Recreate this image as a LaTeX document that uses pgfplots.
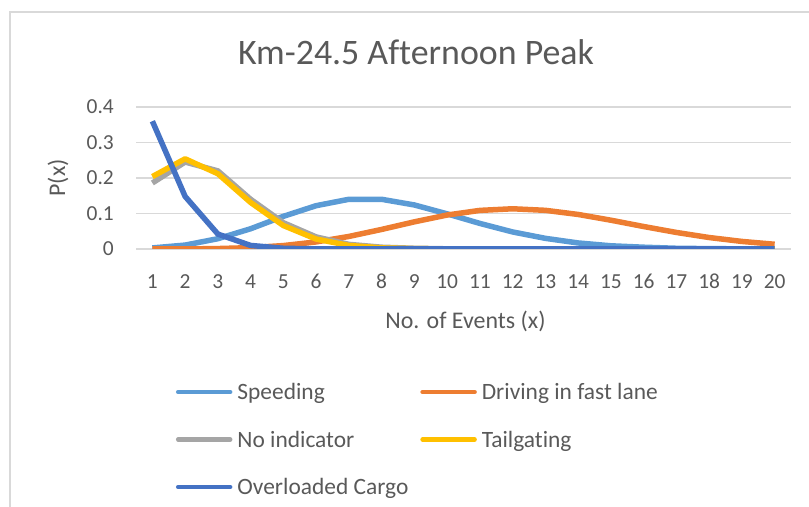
\documentclass[border=0pt]{standalone}
\usepackage{pgfplots}
\usepackage{pgfplotstable}
\pgfplotsset{compat=1.18}
\usepackage{fontspec}
\setmainfont{Carlito}[Ligatures=CommonOff]

\definecolor{speed}{HTML}{5B9BD5}
\definecolor{fastlane}{HTML}{ED7D31}
\definecolor{noind}{HTML}{A5A5A5}
\definecolor{tailg}{HTML}{FFC000}
\definecolor{cargo}{HTML}{4472C4}
\definecolor{txt}{HTML}{595959}
\definecolor{gridc}{HTML}{D9D9D9}

% P(x) for x = 1..20
\pgfplotstableread{
x  speed   fast    noind   tail    cargo
1  0.003   0.0000  0.186   0.204   0.360
2  0.011   0.0001  0.245   0.254   0.148
3  0.029   0.0012  0.220   0.212   0.042
4  0.057   0.0038  0.140   0.131   0.010
5  0.092   0.0096  0.074   0.066   0.002
6  0.122   0.0199  0.034   0.028   0.0003
7  0.140   0.0353  0.013   0.010   0
8  0.140   0.0551  0.005   0.003   0
9  0.124   0.0765  0.002   0.001   0
10 0.099   0.0957  0.0005  0.0003  0
11 0.072   0.1087  0       0       0
12 0.048   0.1133  0       0       0
13 0.030   0.1089  0       0       0
14 0.017   0.0973  0       0       0
15 0.009   0.0811  0       0       0
16 0.005   0.0633  0       0       0
17 0.002   0.0466  0       0       0
18 0.001   0.0323  0       0       0
19 0.0004  0.0213  0       0       0
20 0.0002  0.0133  0       0       0
}\peak

\begin{document}
\begin{tikzpicture}[x=1bp,y=1bp]
\useasboundingbox (0,0) rectangle (809,507);
% chart area border
\draw[gridc, line width=1.2bp] (10,-10) -- (10,495) -- (830,495);
\node[anchor=base, inner sep=0pt, text=txt, font=\fontsize{36}{40}\selectfont] at (416,442) {Km-24.5 Afternoon Peak};
\begin{axis}[
  at={(136bp,258bp)}, anchor=south west,
  scale only axis, width=655bp, height=142bp,
  xmin=0.5, xmax=20.5, ymin=0, ymax=0.4,
  xtick={1,...,20},
  ytick={0,0.1,0.2,0.3,0.4},
  yticklabels={0,0.1,0.2,0.3,0.4},
  /pgf/number format/assume math mode=true,
  axis line style={draw=none},
  major tick length=0pt,
  ymajorgrids,
  grid style={gridc, line width=1.3bp},
  tick label style={font=\fontsize{21.5}{24}\selectfont, text=txt},
  yticklabel style={anchor=east, inner sep=0pt, xshift=-22bp},
  xticklabel style={anchor=north, inner sep=0pt, text height=13.5bp, yshift=-26bp},
  xlabel={No. of Events (x)},
  ylabel={P(x)},
  every axis x label/.style={at={(axis description cs:0.503,-0.507)}, anchor=center,
    font=\fontsize{24}{28}\selectfont, text=txt},
  every axis y label/.style={at={(axis description cs:-0.119,0.5)}, anchor=center, rotate=90,
    font=\fontsize{24}{28}\selectfont, text=txt},
  every axis plot/.append style={line width=5.5bp, line join=round, mark=none},
  legend image code/.code={\draw[#1, line width=4.5bp, line cap=round] (2bp,0bp) -- (54bp,0bp);},
  legend cell align=left,
  legend columns=2,
  legend style={
    draw=none, fill=none, inner sep=0pt, outer sep=0pt,
    at={(axis description cs:0.061,-0.9366)}, anchor=north west,
    font=\fontsize{23.5}{26}\selectfont, text=txt,
    nodes={inner sep=0pt, text height=18bp, text depth=2bp},
    row sep=27.5bp,
    /tikz/every odd column/.append style={column sep=5bp},
    /tikz/every even column/.append style={column sep=12bp},
  },
]
\addplot[speed] table[x=x, y=speed] {\peak};
\addlegendentry{Speeding}
\addplot[fastlane] table[x=x, y=fast] {\peak};
\addlegendentry{Driving in fast lane}
\addplot[noind] table[x=x, y=noind] {\peak};
\addlegendentry{No indicator}
\addplot[tailg] table[x=x, y=tail] {\peak};
\addlegendentry{Tailgating}
\addplot[cargo] table[x=x, y=cargo] {\peak};
\addlegendentry{Overloaded Cargo}
\end{axis}
\end{tikzpicture}
\end{document}
